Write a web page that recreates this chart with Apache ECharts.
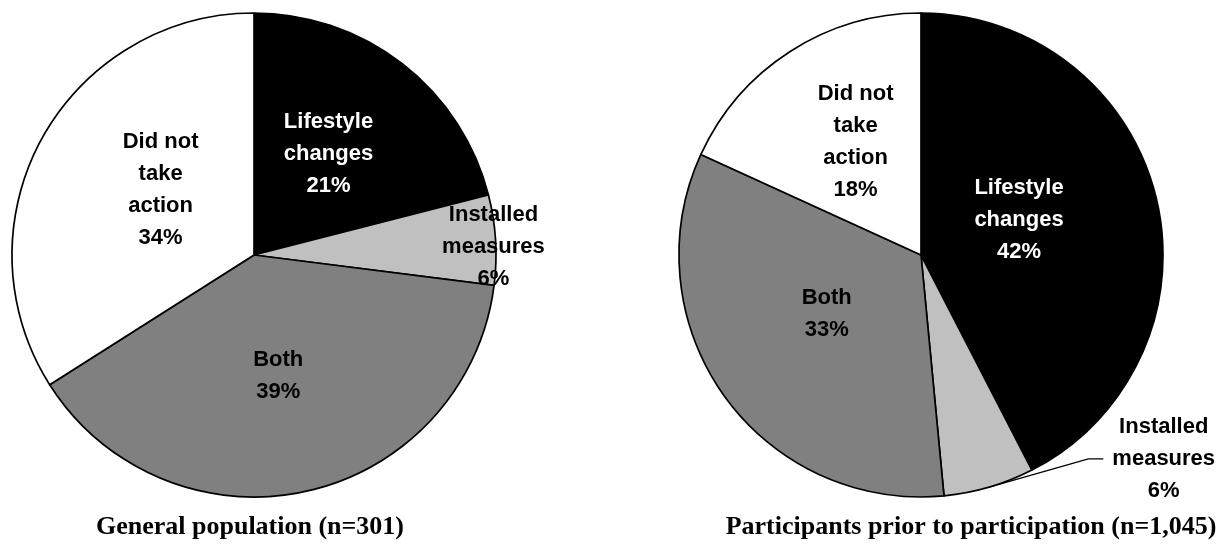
<!DOCTYPE html>
<html>
<head>
<meta charset="utf-8">
<script src="https://cdn.jsdelivr.net/npm/echarts@6/dist/echarts.min.js"></script>
<style>
  html, body { margin: 0; padding: 0; background: #ffffff; }
  #chart { width: 1228px; height: 546px; }
</style>
</head>
<body>
<div id="chart"></div>
<script>
// Shares of respondents by type of energy-saving action taken
const categories = ['Lifestyle\nchanges', 'Installed\nmeasures', 'Both', 'Did not\ntake\naction'];
const generalPopulation = [21, 6, 39, 34];
const participantsPrior = [42, 6, 33, 18];
const panelTitles = ['General population (n=301)', 'Participants prior to participation (n=1,045)'];

// Styling
const sliceColors = ['#000000', '#c0c0c0', '#808080', '#ffffff'];
const labelColors = ['#ffffff', '#000000', '#000000', '#000000'];
const RADIUS = 242;

// Layout of the two pies and where each label sits (radius fraction, angle nudge in degrees)
const panels = [
  {
    cx: 254, cy: 255, values: generalPopulation, title: panelTitles[0], titleX: 250,
    spots: [{ r: 0.52, da: -1.5 }, { r: 0.99, da: 1.7 }, { r: 0.51, da: 1.3 }, { r: 0.47, da: 6 }]
  },
  {
    cx: 921, cy: 255, values: participantsPrior, title: panelTitles[1], titleX: 971,
    spots: [{ r: 0.43, da: -6 }, { r: 1.31, da: -33.6, leader: true }, { r: 0.46, da: 3.3 }, { r: 0.54, da: 2.7 }]
  }
];

function midAngles(values) {
  const total = values.reduce((a, b) => a + b, 0);
  let acc = 0;
  return values.map(v => {
    const m = (acc + v / 2) / total * 360;
    acc += v;
    return m;
  });
}

// angle measured clockwise from 12 o'clock
function polar(cx, cy, r, deg) {
  const a = deg * Math.PI / 180;
  return [cx + r * Math.sin(a), cy - r * Math.cos(a)];
}

function buildSeries(panel) {
  const mids = midAngles(panel.values);
  return {
    type: 'pie',
    center: [panel.cx, panel.cy],
    radius: RADIUS,
    startAngle: 90,
    clockwise: true,
    avoidLabelOverlap: false,
    silent: true,
    animation: false,
    itemStyle: { borderColor: '#000000', borderWidth: 1.7 },
    label: {
      show: true,
      position: 'inside',
      formatter: '{b}\n{c}%',
      fontFamily: '"Liberation Sans", Arial, sans-serif',
      fontWeight: 'bold',
      fontSize: 22,
      lineHeight: 32
    },
    labelLine: { show: false },
    labelLayout: function (params) {
      const i = params.dataIndex;
      const spot = panel.spots[i];
      const mid = mids[i];
      const pos = polar(panel.cx, panel.cy, spot.r * RADIUS, mid + spot.da);
      const out = { x: pos[0], y: pos[1], align: 'center', verticalAlign: 'middle' };
      if (spot.leader) {
        const start = polar(panel.cx, panel.cy, RADIUS, mid);
        const endX = pos[0] - params.labelRect.width / 2 - 9;
        out.labelLinePoints = [start, [endX - 15, pos[1]], [endX, pos[1]]];
      }
      return out;
    },
    data: categories.map((name, i) => {
      const spot = panel.spots[i];
      const item = {
        name: name,
        value: panel.values[i],
        itemStyle: { color: sliceColors[i] },
        label: { color: labelColors[i] }
      };
      if (spot.leader) {
        item.label.position = 'outside';
        item.labelLine = { show: true, length: 10, length2: 10, lineStyle: { color: '#000000', width: 1.3 } };
      }
      return item;
    })
  };
}

const chart = echarts.init(document.getElementById('chart'), null, { renderer: 'canvas' });
chart.setOption({
  backgroundColor: '#ffffff',
  animation: false,
  title: panels.map(p => ({
    text: p.title,
    left: p.titleX,
    top: 514,
    padding: 0,
    textAlign: 'center',
    textStyle: {
      fontFamily: '"Liberation Serif", "Times New Roman", serif',
      fontWeight: 'bold',
      fontSize: 26,
      color: '#000000'
    }
  })),
  series: panels.map(buildSeries)
});
</script>
</body>
</html>
